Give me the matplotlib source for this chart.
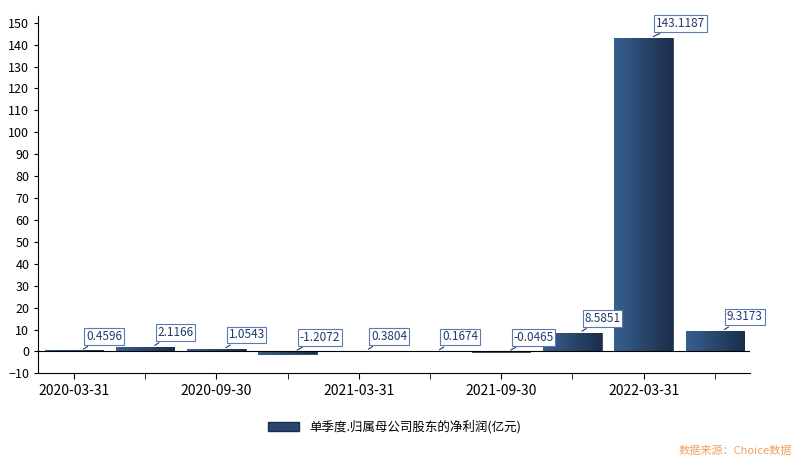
import numpy as np
import matplotlib
matplotlib.use("Agg")
import matplotlib.pyplot as plt
from matplotlib.colors import LinearSegmentedColormap

plt.rcParams["font.family"] = ["Noto Sans CJK SC", "DejaVu Sans"]

quarters = ["2020-03-31", "2020-06-30", "2020-09-30", "2020-12-31", "2021-03-31",
            "2021-06-30", "2021-09-30", "2021-12-31", "2022-03-31", "2022-06-30"]
values = [0.4596, 2.1166, 1.0543, -1.2072, 0.3804, 0.1674, -0.0465, 8.5851, 143.1187, 9.3173]
labels = ["0.4596", "2.1166", "1.0543", "-1.2072", "0.3804", "0.1674", "-0.0465",
          "8.5851", "143.1187", "9.3173"]
series_name = "单季度.归属母公司股东的净利润(亿元)"

fig = plt.figure(figsize=(8, 4.61), dpi=100)
ax = fig.add_axes([0.048, 0.19, 0.89, 0.775])

cmap = LinearSegmentedColormap.from_list("g", ["#36608e", "#1c2e4a"])
grad = np.linspace(0, 1, 64).reshape(1, -1)
width = 0.82
x = np.arange(len(values))
bars = ax.bar(x, values, width=width, color="none", edgecolor="#1c2e4a", lw=0.6)
for b in bars:
    x0, y0 = b.get_x(), b.get_y()
    im = ax.imshow(grad, cmap=cmap, aspect="auto",
                   extent=[x0, x0 + b.get_width(), y0, y0 + b.get_height()], zorder=2)
    im.set_clip_path(b)

for xi, v, t in zip(x, values, labels):
    ax.annotate(t, xy=(xi + 0.1, max(v, 0)), xytext=(xi + 0.17, max(v, 0) + 6.5),
                fontsize=8.5, color="#1f3a6a", va="center", ha="left",
                bbox=dict(boxstyle="square,pad=0.15", fc="white", ec="#5a7ab0", lw=0.8),
                arrowprops=dict(arrowstyle="-", color="#1f3a6a", lw=0.8), zorder=5)

ax.set_xlim(-0.5, len(values) - 0.5)
ax.set_ylim(-10, 153)
ax.set_yticks(range(-10, 151, 10))
ax.set_xticks(x[::2])
ax.set_xticklabels(quarters[::2], fontsize=9)
ax.tick_params(axis="y", labelsize=9, length=3)
ax.tick_params(axis="x", length=4)
ax.set_xticks(x[1::2], minor=True)
ax.tick_params(axis="x", which="minor", length=4)
ax.axhline(0, color="black", lw=0.8)
for s in ["top", "right"]:
    ax.spines[s].set_visible(False)
ax.spines["bottom"].set_position(("data", -10))

from matplotlib.patches import Patch
ax.legend(handles=[Patch(facecolor="#2a4670", edgecolor="#1c2e4a")], labels=[series_name],
          loc="upper center", bbox_to_anchor=(0.5, -0.1), frameon=False, fontsize=9,
          handlelength=2.5, handleheight=0.8)

fig.text(0.99, 0.015, "数据来源：Choice数据", color="#f0a060", fontsize=8, ha="right")
fig.savefig("out.png", dpi=100)
